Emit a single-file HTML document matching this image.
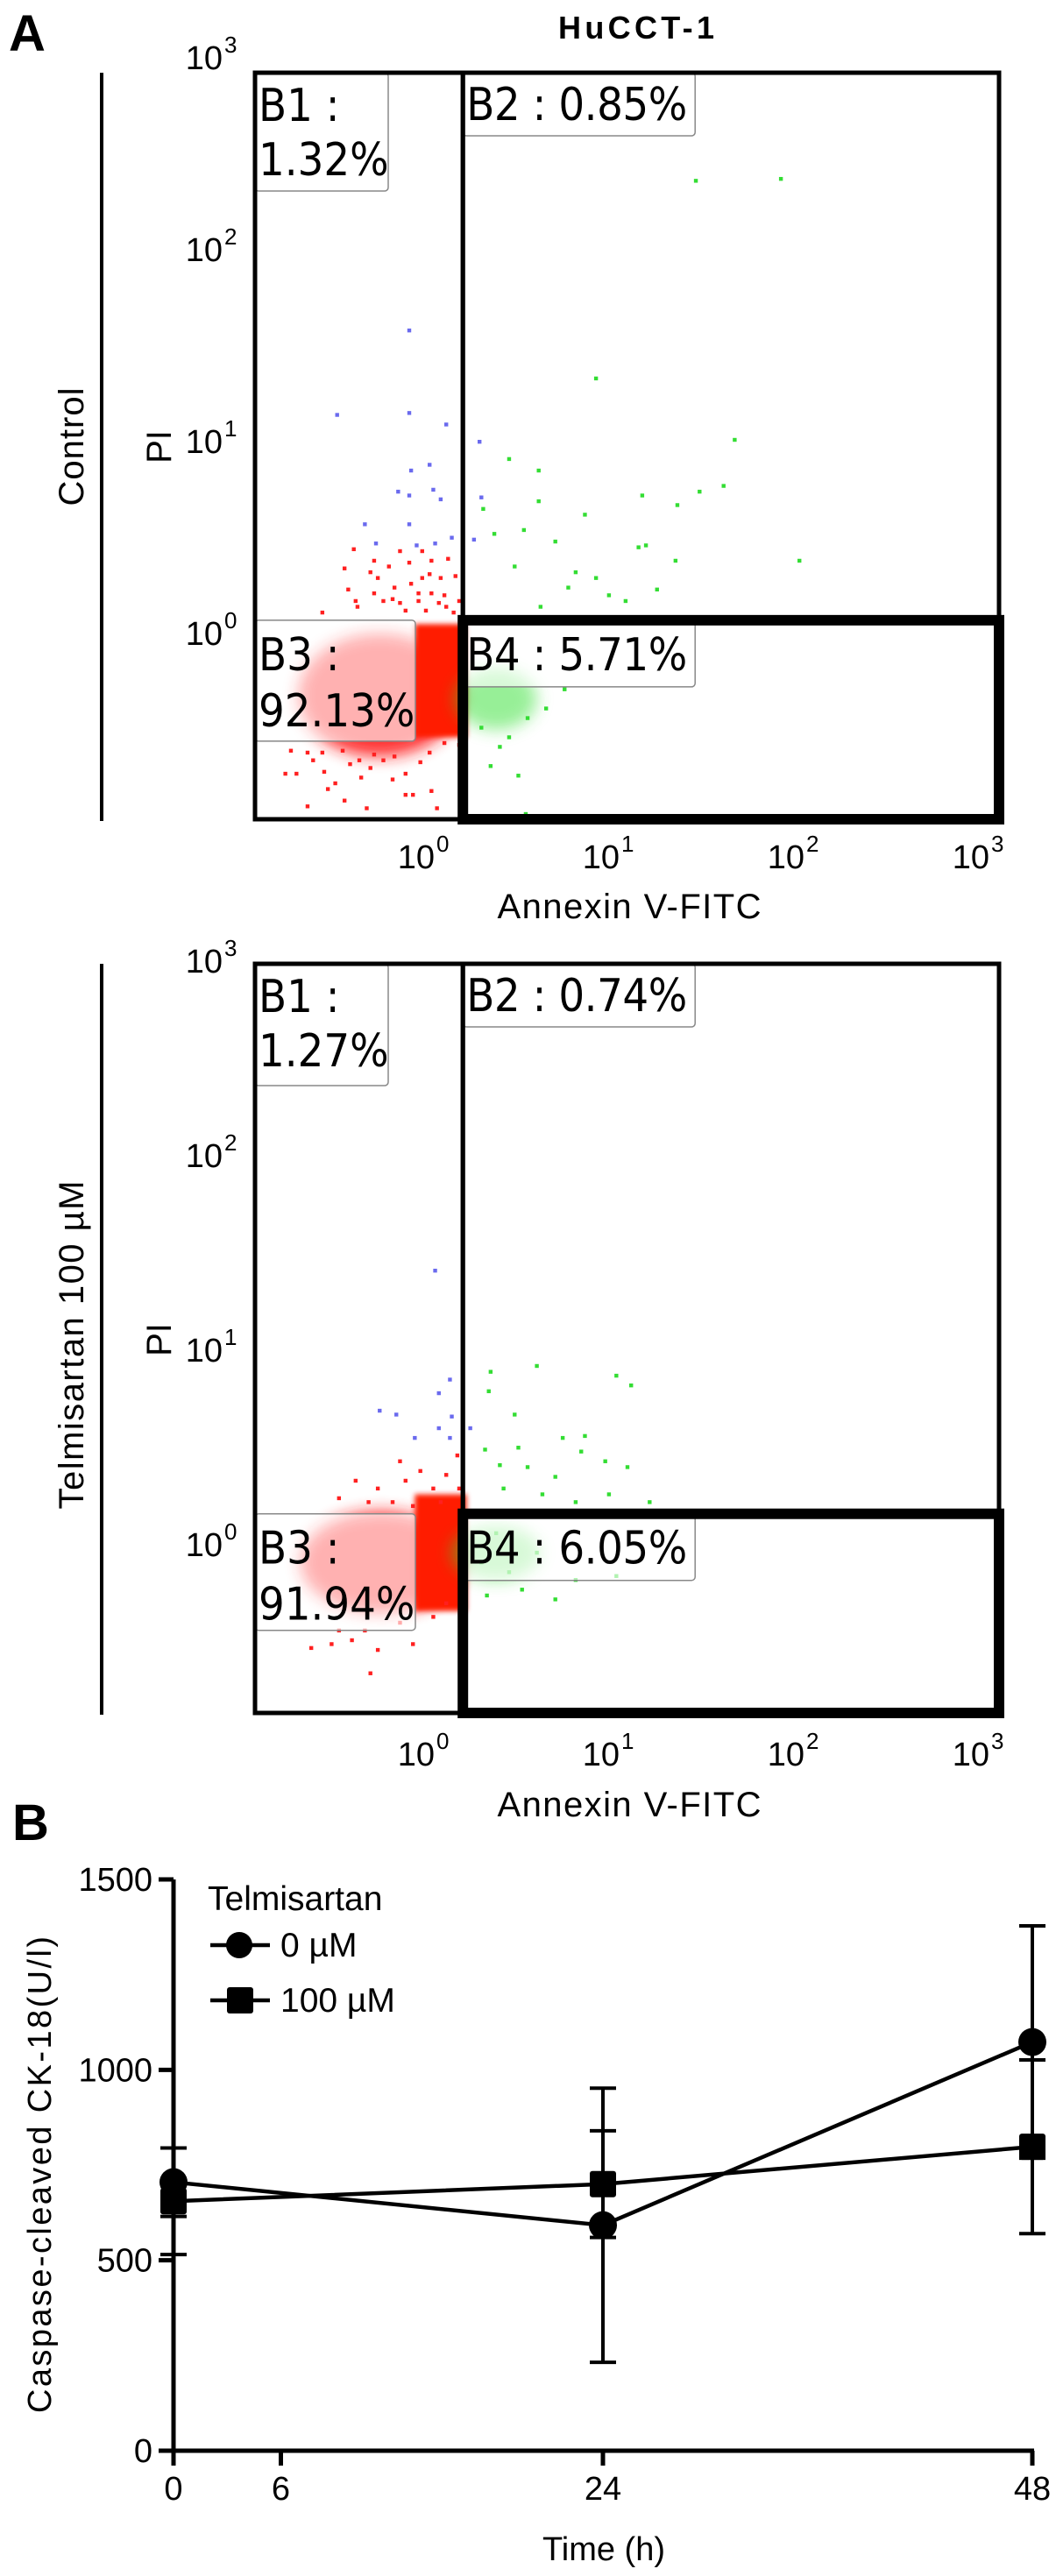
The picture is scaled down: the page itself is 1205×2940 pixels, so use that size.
<!DOCTYPE html>
<html><head><meta charset="utf-8">
<style>
html,body{margin:0;padding:0;background:#fff;}
svg{display:block;}
text{font-family:"Liberation Sans",sans-serif;fill:#000;}
.lbl{font-family:"DejaVu Sans Condensed","DejaVu Sans",sans-serif;font-size:52px;}
</style></head>
<body>
<svg id="fig" width="1205" height="2940" viewBox="0 0 1205 2940" xmlns="http://www.w3.org/2000/svg">
<defs>
<filter id="blur6" x="-50%" y="-50%" width="200%" height="200%"><feGaussianBlur stdDeviation="9"/></filter>
<filter id="blur3" x="-50%" y="-50%" width="200%" height="200%"><feGaussianBlur stdDeviation="3"/></filter>
</defs>
<text x="10" y="58" font-size="58" font-weight="bold">A</text>
<text x="726" y="44" font-size="36" font-weight="bold" text-anchor="middle" textLength="178">HuCCT-1</text>
<text x="14" y="2100" font-size="58" font-weight="bold">B</text>
<g id="flow1"></g>
<g id="flow2"></g>
<g id="lineChart"></g>
</svg>
<script>
// ===== Flow cytometry data (log10 units: x = Annexin V-FITC, y = PI) =====
const xDecadeTicks = [0, 1, 2, 3];
const yDecadeTicks = [0, 1, 2, 3];
const quadrantLabels1 = ["B1 :", "1.32%", "B2 : 0.85%", "B3 :", "92.13%", "B4 : 5.71%"];
const quadrantLabels2 = ["B1 :", "1.27%", "B2 : 0.74%", "B3 :", "91.94%", "B4 : 6.05%"];
const gateX = 0.2;
const gateY1 = 0.06;
const gateY2 = 0.15;

const green1 = [[1.46,2.35],[1.92,2.36],[0.92,1.32],[1.67,1.0],[0.45,0.9],[0.61,0.84],[1.17,0.71],[1.36,0.66],[1.48,0.73],[1.61,0.76],[2.02,0.37],[0.86,0.61],[0.61,0.68],[1.15,0.44],[1.19,0.45],[1.35,0.37],[1.25,0.22],[1.08,0.16],[0.31,0.64],[0.37,0.51],[0.53,0.53],[0.70,0.47],[0.81,0.31],[0.92,0.28],[0.48,0.34],[0.62,0.13],[0.77,0.23],[0.99,0.19],[0.54,-0.95],[0.30,-0.5],[0.45,-0.55],[0.55,-0.45],[0.40,-0.6],[0.65,-0.4],[0.35,-0.7],[0.75,-0.3],[0.5,-0.75]];
const blue1 = [[-0.09,1.57],[-0.48,1.13],[-0.09,1.14],[0.11,1.08],[0.29,0.99],[0.02,0.87],[-0.08,0.84],[-0.15,0.73],[-0.09,0.71],[0.04,0.74],[0.08,0.69],[0.30,0.70],[-0.33,0.56],[-0.09,0.56],[-0.27,0.46],[-0.05,0.45],[0.05,0.46],[0.14,0.49],[0.26,0.48]];
const red1 = [[-0.39,0.43],[-0.44,0.33],[-0.28,0.37],[-0.14,0.42],[-0.02,0.42],[-0.09,0.36],[0.03,0.37],[0.12,0.38],[-0.20,0.34],[-0.30,0.31],[-0.26,0.28],[-0.17,0.23],[-0.08,0.25],[-0.02,0.28],[0.02,0.30],[0.08,0.28],[0.16,0.29],[-0.38,0.16],[-0.37,0.13],[-0.28,0.20],[-0.23,0.16],[-0.18,0.17],[-0.14,0.15],[-0.11,0.11],[-0.04,0.16],[0.00,0.11],[0.07,0.15],[0.11,0.13],[0.18,0.16],[-0.42,0.22],[-0.56,0.10],[-0.04,0.20],[0.03,0.20],[0.10,0.19],[0.15,0.10],[-0.76,-0.74],[-0.70,-0.74],[-0.64,-0.91],[-0.53,-0.82],[-0.44,-0.88],[-0.32,-0.92],[-0.11,-0.85],[-0.07,-0.85],[0.03,-0.83],[0.06,-0.92],[-0.73,-0.62],[-0.61,-0.67],[-0.55,-0.73],[-0.49,-0.79],[-0.41,-0.69],[-0.35,-0.76],[-0.30,-0.71],[-0.23,-0.67],[-0.18,-0.77],[-0.11,-0.74],[-0.03,-0.68],[0.02,-0.63],[0.10,-0.58],[0.18,-0.59],[-0.45,-0.62],[-0.56,-0.63],[-0.64,-0.63],[-0.28,-0.64],[-0.17,-0.65],[-0.36,-0.67]];
const redCloud1 = [-0.25,-0.33,0.44,0.32];
const redCore1 = [-0.06,0.04,0.22,-0.55];
const greenCloud1 = [0.38,-0.35,0.22,0.16];

const green2 = [[0.35,0.88],[0.60,0.91],[1.03,0.86],[1.11,0.81],[0.34,0.78],[0.48,0.66],[0.32,0.48],[0.50,0.49],[0.74,0.54],[0.86,0.55],[0.84,0.47],[0.40,0.40],[0.55,0.39],[0.70,0.34],[0.97,0.42],[1.09,0.39],[0.99,0.25],[1.21,0.21],[0.42,0.28],[0.63,0.25],[0.81,0.21],[0.33,-0.27],[0.52,-0.24],[0.70,-0.29],[0.81,-0.19],[1.03,-0.17],[0.30,-0.1],[0.45,-0.15],[0.6,-0.05],[0.38,0.05]];
const blue2 = [[0.05,1.40],[0.13,0.84],[0.07,0.77],[-0.25,0.68],[-0.16,0.66],[0.14,0.65],[0.07,0.59],[0.24,0.59],[-0.06,0.54],[0.13,0.54]];
const red2 = [[-0.38,0.32],[-0.26,0.28],[-0.14,0.42],[-0.11,0.32],[-0.03,0.37],[0.04,0.28],[0.11,0.35],[0.17,0.45],[0.18,0.28],[-0.31,0.21],[-0.18,0.21],[-0.07,0.19],[0.08,0.21],[-0.47,0.23],[-0.62,-0.54],[-0.51,-0.52],[-0.40,-0.50],[-0.26,-0.55],[-0.30,-0.67],[-0.07,-0.52],[-0.47,-0.45],[-0.33,-0.45],[-0.14,-0.41],[0.04,-0.38],[0.11,-0.31]];
const redCloud2 = [-0.24,-0.1,0.44,0.26];
const redCore2 = [-0.06,0.25,0.22,-0.35];
const greenCloud2 = [0.38,-0.05,0.24,0.14];

// ===== Line chart data =====
const timePoints = [0, 24, 48];
const xTickValues = [0, 6, 24, 48];
const yTickValues = [0, 500, 1000, 1500];
const series0 = [705, 592, 1073];
const series0Err = [90, 360, 305];
const series100 = [655, 700, 798];
const series100Err = [140, 140, 228];
const seriesNames = ["0 µM", "100 µM"];

const NS = "http://www.w3.org/2000/svg";
function mk(tag, attrs, parent, txt) {
  const e = document.createElementNS(NS, tag);
  for (const k in attrs) e.setAttribute(k, attrs[k]);
  if (txt !== undefined) e.textContent = txt;
  parent.appendChild(e);
  return e;
}

function drawFlow(g, cfg) {
  const X = v => cfg.x0 + v * cfg.xStep;
  const Y = v => cfg.y0 - v * cfg.yStep;
  const L = cfg.left, R = cfg.right, T = cfg.top, B = cfg.bottom;
  const gx = X(gateX), gy = Y(cfg.gateY);
  const rc = mk("ellipse", {cx: X(cfg.redCloud[0]), cy: Y(cfg.redCloud[1]), rx: cfg.redCloud[2]*cfg.xStep, ry: cfg.redCloud[3]*cfg.yStep, fill: "#ff1a1a", filter: "url(#blur6)", opacity: 0.9}, g);
  
  
  const core = mk("rect", {x: X(cfg.redCore[0]), y: Y(cfg.redCore[1]), width: (cfg.redCore[2]-cfg.redCore[0])*cfg.xStep, height: (cfg.redCore[1]-cfg.redCore[3])*cfg.yStep, fill: "#ff1a00", filter: "url(#blur3)"}, g);
  
  
  const gc = mk("ellipse", {cx: X(cfg.greenCloud[0]), cy: Y(cfg.greenCloud[1]), rx: cfg.greenCloud[2]*cfg.xStep, ry: cfg.greenCloud[3]*cfg.yStep, fill: "#33e033", filter: "url(#blur6)", opacity: 0.5}, g);
  
  
  const pts = [[cfg.red, "#ff2020"], [cfg.green, "#33dd33"], [cfg.blue, "#6a6aee"]];
  pts.forEach(([arr, col]) => arr.forEach(p => {
    const r = mk("rect", {x: X(p[0]) - 2.2, y: Y(p[1]) - 2.2, width: 4.4, height: 4.4, fill: col}, g);
    
    
  }));
  const bx = (x, y, w, h, lines, ys, name) => {
    const rr = mk("rect", {x: x, y: y, width: w, height: h, rx: 4, fill: "rgba(255,255,255,0.62)", stroke: "#888", "stroke-width": 1.5}, g);
    
    
    lines.forEach((t, i) => {
      const tt = mk("text", {x: x + 4, y: ys[i], class: "lbl"}, g, t);
      
      
    });
  };
  const q = cfg.labels;
  bx(L, T, 152, cfg.b1h, [q[0], q[1]], [T + 55, T + 117], "b1-label");
  bx(gx, T, 265, 72, [q[2]], [T + 54], "b2-label");
  bx(L, gy, 183, cfg.b3h, [q[3], q[4]], [gy + 57, gy + 121], "b3-label");
  bx(gx, gy, 265, 76, [q[5]], [gy + 57], "b4-label");
  g.querySelectorAll("text.lbl").forEach(t => {
    const s = t.textContent;
    if (s.length > 8) t.setAttribute("textLength", 252);
  });
  const fr = mk("rect", {x: L, y: T, width: gx - L, height: B - T, fill: "none", stroke: "#000", "stroke-width": 5}, g);
  
  
  const fr2 = mk("rect", {x: gx, y: T, width: R - gx, height: gy - T, fill: "none", stroke: "#000", "stroke-width": 5}, g);
  
  
  const fr3 = mk("rect", {x: gx, y: gy, width: R - gx, height: B - gy, fill: "none", stroke: "#000", "stroke-width": 12}, g);
  
  
  yDecadeTicks.forEach(d => {
    const t = mk("text", {x: 254, y: Y(d) + 15, "font-size": 38, "text-anchor": "end"}, g, "10");
    
    
    const s = mk("text", {x: 256, y: Y(d) - 4, "font-size": 26}, g, String(d));
    
    
  });
  xDecadeTicks.forEach(d => {
    const t = mk("text", {x: X(d) + 10, y: cfg.xLabY, "font-size": 38, "text-anchor": "end"}, g, "10");
    
    
    const s = mk("text", {x: X(d) + 12, y: cfg.xLabY - 19, "font-size": 26}, g, String(d));
    
    
  });
  const xt = mk("text", {x: 718, y: cfg.xTitleY, "font-size": 40, "text-anchor": "middle", textLength: 301}, g, "Annexin V-FITC");
  
  
  const yt = mk("text", {x: 0, y: 0, "font-size": 40, "text-anchor": "middle", transform: `translate(195,${cfg.piY}) rotate(-90)`}, g, "PI");
  
  
  const gl = mk("text", {x: 0, y: 0, "font-size": 40, "text-anchor": "middle", textLength: cfg.groupLen, transform: `translate(95,${cfg.groupY}) rotate(-90)`}, g, cfg.group);
  
  
  const vl = mk("line", {x1: 116, y1: T, x2: 116, y2: B + 2, stroke: "#000", "stroke-width": 4}, g);
  
  
}

drawFlow(document.getElementById("flow1"), {
  x0: 486, xStep: 211, y0: 721, yStep: 219, gateY: gateY1,
  left: 291, right: 1140, top: 83, bottom: 935,
  red: red1, green: green1, blue: blue1, redCloud: redCloud1, redCore: redCore1, greenCloud: greenCloud1,
  labels: quadrantLabels1, b1h: 135, b3h: 138,
  xLabY: 991, xTitleY: 1048, piY: 510, group: "Control", groupY: 510, groupLen: 135
});
drawFlow(document.getElementById("flow2"), {
  x0: 486, xStep: 211, y0: 1761, yStep: 222, gateY: gateY2,
  left: 291, right: 1140, top: 1100, bottom: 1955,
  red: red2, green: green2, blue: blue2, redCloud: redCloud2, redCore: redCore2, greenCloud: greenCloud2,
  labels: quadrantLabels2, b1h: 139, b3h: 133,
  xLabY: 2015, xTitleY: 2073, piY: 1529, group: "Telmisartan 100 µM", groupY: 1535, groupLen: 375
});

(function () {
  const g = document.getElementById("lineChart");
  const ax0 = 198, ay0 = 2797;
  const X = t => ax0 + t * (1178 - ax0) / 48;
  const Y = v => ay0 - v * (ay0 - 2145) / 1500;
  const ya = mk("line", {x1: ax0, y1: Y(1500), x2: ax0, y2: ay0 + 17, stroke: "#000", "stroke-width": 5}, g);
  
  
  const xa = mk("line", {x1: ax0 - 17, y1: ay0, x2: X(48) + 2, y2: ay0, stroke: "#000", "stroke-width": 5}, g);
  
  
  yTickValues.forEach(v => {
    const t = mk("line", {x1: ax0 - 17, y1: Y(v), x2: ax0, y2: Y(v), stroke: "#000", "stroke-width": 5}, g);
    
    
    const l = mk("text", {x: 174, y: Y(v) + 13, "font-size": 38, "text-anchor": "end"}, g, String(v));
    
    
  });
  xTickValues.forEach(v => {
    const t = mk("line", {x1: X(v), y1: ay0, x2: X(v), y2: ay0 + 17, stroke: "#000", "stroke-width": 5}, g);
    
    
    const l = mk("text", {x: X(v), y: 2853, "font-size": 38, "text-anchor": "middle"}, g, String(v));
    
    
  });
  const xt = mk("text", {x: 689, y: 2922, "font-size": 38, "text-anchor": "middle"}, g, "Time (h)");
  
  
  const yt = mk("text", {x: 0, y: 0, "font-size": 38, "text-anchor": "middle", textLength: 544, transform: "translate(58,2482) rotate(-90)"}, g, "Caspase-cleaved CK-18(U/l)");
  
  

  const drawSeries = (vals, errs, shape, name) => {
    const pl = mk("polyline", {points: timePoints.map((t, i) => X(t) + "," + Y(vals[i])).join(" "), fill: "none", stroke: "#000", "stroke-width": 4.5}, g);
    
    
    timePoints.forEach((t, i) => {
      const x = X(t), hi = Y(vals[i] + errs[i]), lo = Y(vals[i] - errs[i]);
      const eb = mk("path", {d: `M${x},${hi}V${lo}M${x-15},${hi}H${x+15}M${x-15},${lo}H${x+15}`, stroke: "#000", "stroke-width": 4, fill: "none"}, g);
      
      
      let m;
      if (shape === "circle") m = mk("circle", {cx: x, cy: Y(vals[i]), r: 16, fill: "#000"}, g);
      else m = mk("rect", {x: x - 15, y: Y(vals[i]) - 15, width: 30, height: 30, rx: 3, fill: "#000"}, g);
      
      
    });
  };
  drawSeries(series100, series100Err, "square", "series-100um");
  drawSeries(series0, series0Err, "circle", "series-0um");

  const lt = mk("text", {x: 237, y: 2180, "font-size": 39}, g, "Telmisartan");
  
  
  [[2220, "circle"], [2283, "square"]].forEach(([y, s], i) => {
    const ln = mk("line", {x1: 240, y1: y, x2: 308, y2: y, stroke: "#000", "stroke-width": 4.5}, g);
    
    
    let m;
    if (s === "circle") m = mk("circle", {cx: 273, cy: y, r: 15, fill: "#000"}, g);
    else m = mk("rect", {x: 259, y: y - 15, width: 30, height: 30, rx: 3, fill: "#000"}, g);
    
    
    const t = mk("text", {x: 320, y: y + 13, "font-size": 39}, g, seriesNames[i]);
    
    
  });
})();
</script>
</body></html>
